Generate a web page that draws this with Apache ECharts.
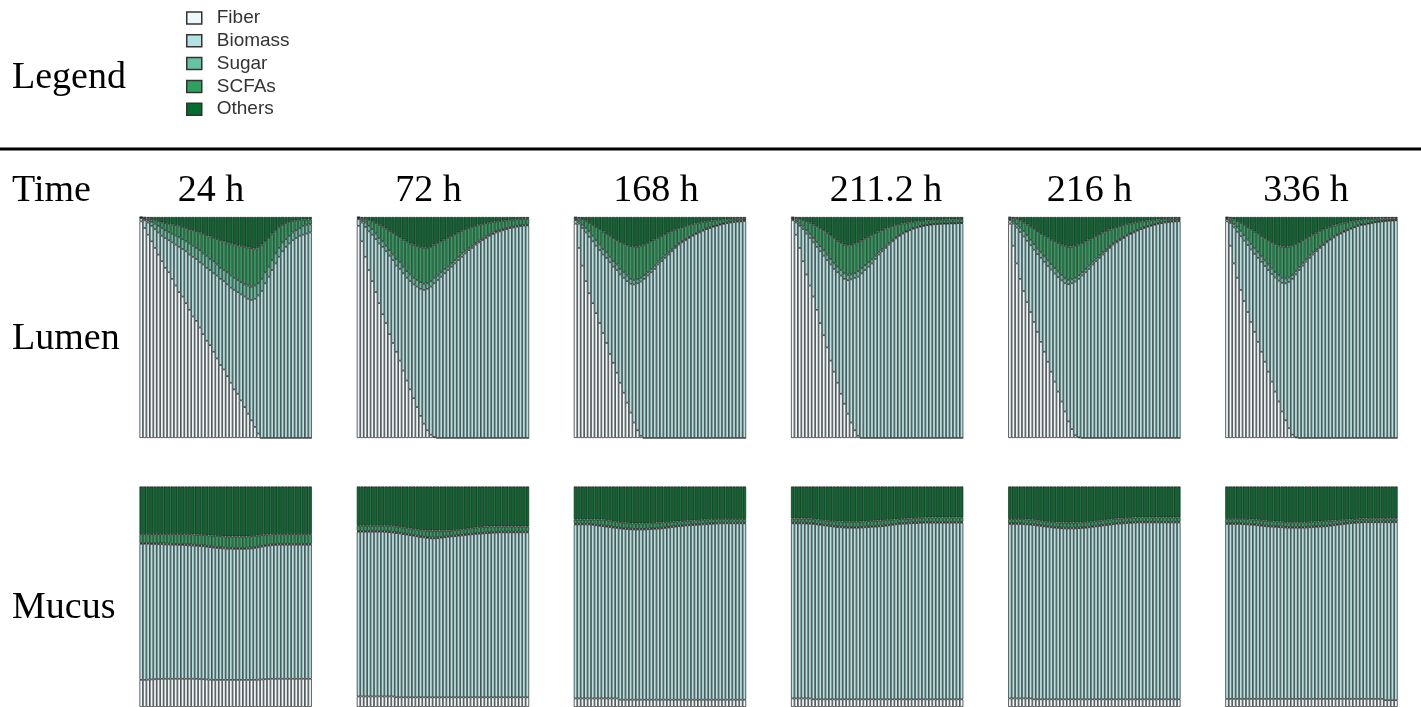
<!DOCTYPE html>
<html><head><meta charset="utf-8">
<script src="https://cdn.jsdelivr.net/npm/echarts@6/dist/echarts.min.js"></script>
<style>html,body{margin:0;padding:0;background:#fff}#c{width:1421px;height:707px}</style>
</head><body><div id="c"></div>
<script>
const times = ['24 h','72 h','168 h','211.2 h','216 h','336 h'];
const compartments = ['Lumen','Mucus'];
const components = ['Fiber','Biomass','Sugar','SCFAs','Others'];
const colors = ['#edf8fb','#b2e2e2','#66c2a4','#2ca25f','#006d2c'];

// ---------- Lumen, 24 h ----------
const lumen24Fiber = [98,95,92,89,86,83,80,77,75,72,69,66,64,61,58,55,53,50,47,44,42,39,36,33,31,28,25,22,20,17,14,11,8,5,2,0,0,0,0,0,0,0,0,0,0,0,0,0,0,0];
const lumen24Biomass = [1.5,3.5,5.5,7,8.5,10,11.5,13.5,14.5,16.5,18.5,20.5,21.5,23.5,25,27,28,29.5,31.5,33,34,35.5,37.5,39,40,41.5,43,45,46,48,50,52,54.5,58,62.5,66.5,70,73,76,79,82,84.5,86.5,88,89.5,90.5,91.5,92,92.5,93];
const lumen24Sugar = [0.2,0.7,1,1.8,2.5,3,3.5,3.5,3.7,3.9,4.1,4.3,4.5,4.5,5,5,5,5.5,5,5.5,5,5.5,5,5,5,5.5,5.5,5.5,5.5,5.5,5.5,6,6,6,5.5,5.5,5,4.5,4.5,4.5,4,4,3.5,3.5,3.5,3.5,3.5,4,4,3.7];
const lumen24Scfa = [0.2,0.5,0.9,1.2,1.6,2.2,2.6,3.2,3.7,4.2,4.7,5.2,5.5,6,6.5,7,7.6,8,8.9,9.3,10.2,10.6,11.5,12.5,13,13.5,14.5,15.1,15.7,16.4,17.1,17.2,17.4,16.8,16.5,15.5,14,13,12,10.5,9.5,8,7.3,6.3,5.2,4.5,3.7,2.8,2.4,2.2];
const lumen24Others = [0.1,0.3,0.6,1,1.4,1.8,2.4,2.8,3.1,3.4,3.7,4,4.5,5,5.5,6,6.4,7,7.6,8.2,8.8,9.4,10,10.5,11,11.5,12,12.4,12.8,13.1,13.4,13.8,14.1,14.2,13.5,12.5,11,9.5,7.5,6,4.5,3.5,2.7,2.2,1.8,1.5,1.3,1.2,1.1,1.1];

// ---------- Lumen, 72 h ----------
const lumen72Fiber = [96,89,82,76,71,66,61,56,52,47,43,39,35,30.5,26,22,18,14,10,6.5,3.5,1.5,0.5,0,0,0,0,0,0,0,0,0,0,0,0,0,0,0,0,0,0,0,0,0,0,0,0,0,0,0];
const lumen72Biomass = [3,8.5,13.5,17.5,21,24,27,30.5,32.5,35.5,37.5,39,41.5,44,46.5,49,51.5,54.5,57.5,60.5,64,67,69.5,71.5,73,74.5,76,77.5,79,80.5,82,83.5,85,86,87.5,88.5,89.5,90.5,91.5,92.3,93,93.5,94,94.5,95,95.3,95.6,95.9,96.1,96.2];
const lumen72Sugar = [0.5,1,2,2.5,2.5,2.5,2.5,2.5,2.5,2.5,2.5,3,3,3,3,3,3,3,3,2.8,2.5,2.5,2.5,2,2,2,1.5,1.5,1.5,1.5,1.5,1.3,1,1,0.8,0.8,0.7,0.7,0.6,0.6,0.6,0.5,0.5,0.5,0.4,0.4,0.4,0.3,0.3,0.3];
const lumen72Scfa = [0.4,1.1,1.7,2.7,3.5,4.8,6,6.7,7.8,8.8,9.8,10.8,11.3,12.3,13.4,14,15,15.4,15.9,16.3,16,15.5,15,14.8,14,13.3,13.1,12.4,11.7,11,10.3,9.7,9,8.5,7.7,7.2,6.7,6,5.4,4.8,4.3,4.1,3.8,3.5,3.3,3.1,3,2.9,2.8,2.7];
const lumen72Others = [0.1,0.4,0.8,1.3,2,2.7,3.5,4.3,5.2,6.2,7.2,8.2,9.2,10.2,11.1,12,12.5,13.1,13.6,13.9,14,13.5,12.5,11.7,11,10.2,9.4,8.6,7.8,7,6.2,5.5,5,4.5,4,3.5,3.1,2.8,2.5,2.3,2.1,1.9,1.7,1.5,1.3,1.2,1,0.9,0.8,0.8];

// ---------- Lumen, 168 h ----------
const lumen168Fiber = [97,86,78,71,65.5,61,56.5,52,47.5,43,38,34,29.5,25,20.5,16,11.5,7,3.5,1,0,0,0,0,0,0,0,0,0,0,0,0,0,0,0,0,0,0,0,0,0,0,0,0,0,0,0,0,0,0];
const lumen168Biomass = [1.5,11,17,22,25.5,28,30.5,33,35.5,38.5,41.5,43.5,46.5,49,52,55,58.3,62.5,66.5,69.8,72,73.5,75,76.5,78.5,80,81.5,83,84.5,86,87.5,88.5,89.5,90.5,91.5,92.3,93,93.8,94.5,95,95.6,96,96.5,96.9,97.2,97.5,97.7,97.9,98,98.2];
const lumen168Sugar = [0.5,1,1.5,2,2.5,2.5,2.5,2.5,2.5,2.5,2.5,2.5,2.5,2.5,2.5,2.5,2.2,2,1.8,1.7,1.7,1.5,1.5,1.5,1.3,1.2,1.1,1,0.9,0.8,0.7,0.6,0.6,0.5,0.5,0.4,0.4,0.4,0.3,0.3,0.3,0.3,0.3,0.3,0.3,0.3,0.3,0.3,0.3,0.3];
const lumen168Scfa = [0.8,1.5,2.5,3.3,3.8,4.9,5.9,6.9,7.9,8.4,9.4,10.4,11,12.2,12.9,13.7,14.8,15,14.8,14.5,13.8,13.2,12.5,11.8,10.8,10.2,9.6,9,8.3,7.5,6.7,6.3,5.8,5.4,4.8,4.4,4,3.5,3.1,2.9,2.5,2.3,1.9,1.7,1.5,1.3,1.1,1,0.9,0.7];
const lumen168Others = [0.2,0.5,1,1.7,2.7,3.6,4.6,5.6,6.6,7.6,8.6,9.6,10.5,11.3,12.1,12.8,13.2,13.5,13.4,13,12.5,11.8,11,10.2,9.4,8.6,7.8,7,6.3,5.7,5.1,4.6,4.1,3.6,3.2,2.9,2.6,2.3,2.1,1.8,1.6,1.4,1.3,1.1,1,0.9,0.9,0.8,0.8,0.8];

// ---------- Lumen, 211.2 h ----------
const lumen211Fiber = [98.5,92,86,80,74,69,64,58,52,46.5,41,35,30,25,20,15.5,11,7,3.5,1,0,0,0,0,0,0,0,0,0,0,0,0,0,0,0,0,0,0,0,0,0,0,0,0,0,0,0,0,0,0];
const lumen211Biomass = [0.5,5.5,10,14.5,18.5,21.5,24.5,28.5,32.5,36,39.5,43.5,46.5,50,53.5,56.5,60.4,64.8,69,72,74.5,76,77.5,79,81,83,84.5,86,87.5,89,90.3,91.5,92.5,93.3,94,94.7,95.2,95.6,96,96.3,96.5,96.7,96.8,96.9,97,97,97.1,97.1,97.2,97.2];
const lumen211Sugar = [0.4,0.8,1,1.2,1.5,1.8,2,2.2,2.3,2.4,2.5,2.5,2.5,2.5,2.5,2.5,2.4,2.2,2.1,2.5,2.3,2.2,2,1.8,1.5,1.3,1.1,1,0.8,0.7,0.6,0.5,0.4,0.3,0.3,0.3,0.3,0.3,0.2,0.2,0.2,0.2,0.2,0.2,0.2,0.2,0.2,0.2,0.2,0.2];
const lumen211Scfa = [0.4,1.2,2.1,2.9,4.1,5.1,6.1,7.1,8.1,9.1,9.9,10.7,11.5,11.8,12.3,13,13.4,13.4,13.4,13.1,12.6,12.1,11.6,11.1,10.2,9.1,8.5,7.8,7.1,6.2,5.5,4.8,4.2,3.8,3.3,2.8,2.5,2.2,2,1.9,1.8,1.7,1.7,1.6,1.6,1.6,1.6,1.6,1.6,1.6];
const lumen211Others = [0.2,0.5,0.9,1.4,1.9,2.6,3.4,4.2,5.1,6,7.1,8.3,9.5,10.7,11.7,12.5,12.8,12.6,12,11.4,10.6,9.7,8.9,8.1,7.3,6.6,5.9,5.2,4.6,4.1,3.6,3.2,2.9,2.6,2.4,2.2,2,1.9,1.8,1.6,1.5,1.4,1.3,1.3,1.2,1.2,1.1,1.1,1,1];

// ---------- Lumen, 216 h ----------
const lumen216Fiber = [97,87,79,72,66.5,61.5,57,52.5,48,43.5,39,34.5,30,25.5,21,16.5,12,7.5,4,1.2,0.3,0,0,0,0,0,0,0,0,0,0,0,0,0,0,0,0,0,0,0,0,0,0,0,0,0,0,0,0,0];
const lumen216Biomass = [1.5,10,16.2,21.2,24.7,27.7,30.2,32.7,35.2,38,40.7,43.3,46.2,48.9,51.8,54.8,58,62.1,66,69.6,71.7,73.5,75,76.5,78.5,80,81.5,83,84.5,86,87.5,88.5,89.5,90.5,91.5,92.3,93,93.8,94.5,95,95.6,96,96.5,96.9,97.2,97.5,97.7,97.9,98,98.1];
const lumen216Sugar = [0.5,1,1.5,2,2.5,2.5,2.5,2.5,2.5,2.5,2.5,2.5,2.5,2.5,2.5,2.5,2.2,2,1.8,1.7,1.7,1.5,1.5,1.5,1.3,1.2,1.1,1,0.9,0.8,0.7,0.6,0.6,0.5,0.5,0.4,0.4,0.4,0.3,0.3,0.3,0.3,0.3,0.3,0.3,0.3,0.3,0.3,0.3,0.3];
const lumen216Scfa = [0.8,1.5,2.5,3.3,3.8,4.9,5.9,6.9,7.9,8.4,9.4,10.4,11,12.2,12.9,13.7,14.8,15,14.8,14.5,13.8,13.2,12.5,11.8,10.8,10.2,9.6,9,8.3,7.5,6.7,6.3,5.8,5.4,4.8,4.4,4,3.5,3.1,2.9,2.5,2.3,1.9,1.7,1.5,1.3,1.1,1,0.9,0.7];
const lumen216Others = [0.2,0.5,0.8,1.5,2.5,3.4,4.4,5.4,6.4,7.6,8.4,9.3,10.3,10.9,11.8,12.5,13,13.4,13.4,13,12.5,11.8,11,10.2,9.4,8.6,7.8,7,6.3,5.7,5.1,4.6,4.1,3.6,3.2,2.9,2.6,2.3,2.1,1.8,1.6,1.4,1.3,1.1,1,0.9,0.9,0.8,0.8,0.9];

// ---------- Lumen, 336 h ----------
const lumen336Fiber = [98,87,79,72.5,67,62,57,52.5,48,43.5,39,34.5,30,25.5,21,16.5,12,8,4.5,1.5,0.3,0,0,0,0,0,0,0,0,0,0,0,0,0,0,0,0,0,0,0,0,0,0,0,0,0,0,0,0,0];
const lumen336Biomass = [1,10.3,16.3,20.8,24.3,27.3,30.3,32.8,35.3,38,40.7,43.3,46,48.7,51.6,54.7,58.2,62,66.1,70.5,73.7,76,78,79.8,81.5,83,84.5,86,87.3,88.5,89.7,90.7,91.7,92.5,93.3,94,94.7,95.3,95.9,96.4,96.6,97,97.3,97.6,97.8,98,98.2,98.3,98.4,98.5];
const lumen336Sugar = [0.4,0.9,1.4,2,2.4,2.5,2.5,2.5,2.5,2.5,2.5,2.5,2.5,2.5,2.5,2.4,2.3,2.2,2,1.8,1.6,1.4,1.3,1.2,1.1,1,0.9,0.8,0.7,0.6,0.5,0.5,0.4,0.4,0.4,0.3,0.3,0.3,0.3,0.3,0.2,0.2,0.2,0.2,0.2,0.2,0.2,0.2,0.2,0.2];
const lumen336Scfa = [0.4,1.2,2.2,2.9,3.6,4.6,5.6,6.6,7.6,8.4,9.2,10.1,11,11.9,12.7,13.5,14.1,14.2,14,13.3,12.2,11.2,10.2,9.4,8.7,8.1,7.5,6.9,6.4,5.9,5.4,4.9,4.5,4.1,3.7,3.4,3,2.7,2.3,2,2.1,1.8,1.6,1.4,1.3,1.1,1,0.9,0.8,0.7];
const lumen336Others = [0.2,0.6,1.1,1.8,2.7,3.6,4.6,5.6,6.6,7.6,8.6,9.6,10.5,11.4,12.2,12.9,13.4,13.6,13.4,12.9,12.2,11.4,10.5,9.6,8.7,7.9,7.1,6.3,5.6,5,4.4,3.9,3.4,3,2.6,2.3,2,1.7,1.5,1.3,1.1,1,0.9,0.8,0.7,0.7,0.6,0.6,0.6,0.6];

// ---------- Mucus, 24 h ----------
const mucus24Fiber = [12.3,12.3,12.4,12.5,12.6,12.7,12.8,12.8,12.8,12.8,12.8,12.8,12.8,12.8,12.8,12.8,12.8,12.7,12.6,12.5,12.4,12.3,12.3,12.3,12.3,12.3,12.3,12.3,12.3,12.3,12.3,12.3,12.3,12.3,12.4,12.5,12.6,12.7,12.8,12.8,12.8,12.8,12.8,12.8,12.8,12.8,12.8,12.8,12.8,12.8];
const mucus24Biomass = [61.7,61.7,61.6,61.4,61.3,61.1,61,60.9,60.9,60.8,60.8,60.7,60.7,60.6,60.5,60.4,60.3,60.3,60.3,60.2,60.1,60,59.8,59.7,59.6,59.5,59.5,59.4,59.4,59.4,59.4,59.5,59.6,59.8,60,60.2,60.4,60.5,60.6,60.7,60.8,60.8,60.8,60.8,60.8,60.8,60.8,60.8,60.8,60.8];
const mucus24Sugar = [0.4,0.4,0.4,0.4,0.4,0.4,0.4,0.4,0.4,0.4,0.4,0.4,0.4,0.4,0.4,0.4,0.4,0.4,0.4,0.4,0.4,0.4,0.4,0.4,0.4,0.4,0.4,0.4,0.4,0.4,0.4,0.4,0.4,0.4,0.4,0.4,0.4,0.4,0.4,0.4,0.4,0.4,0.4,0.4,0.4,0.4,0.4,0.4,0.4,0.4];
const mucus24Scfa = [4,4,4,4.1,4.1,4.2,4.2,4.3,4.3,4.4,4.4,4.5,4.5,4.6,4.7,4.7,4.7,4.7,4.7,4.8,4.9,5,5.1,5.1,5.1,5.2,5.2,5.3,5.3,5.3,5.3,5.2,5.2,5.1,5,4.9,4.8,4.7,4.6,4.5,4.4,4.4,4.4,4.4,4.4,4.4,4.4,4.4,4.4,4.4];
const mucus24Others = [21.6,21.6,21.6,21.6,21.6,21.6,21.6,21.6,21.6,21.6,21.6,21.6,21.6,21.6,21.6,21.7,21.8,21.9,22,22.1,22.2,22.3,22.4,22.5,22.6,22.6,22.6,22.6,22.6,22.6,22.6,22.6,22.5,22.4,22.2,22,21.8,21.7,21.6,21.6,21.6,21.6,21.6,21.6,21.6,21.6,21.6,21.6,21.6,21.6];

// ---------- Mucus, 72 h ----------
const mucus72Fiber = [4.8,4.8,4.8,4.8,4.8,4.8,4.8,4.8,4.8,4.8,4.8,4.4,4.4,4.4,4.4,4.4,4.4,4.4,4.4,4.4,4.4,4.4,4.4,4.4,4.4,4.4,4.4,4.4,4.4,4.4,4.4,4.4,4.4,4.4,4.4,4.4,4.4,4.4,4.4,4.4,4.4,4.4,4.4,4.4,4.4,4.4,4.4,4.4,4.4,4.4];
const mucus72Biomass = [74.7,74.7,74.7,74.7,74.7,74.7,74.7,74.7,74.6,74.5,74.3,74.5,74.3,74,73.8,73.5,73.3,73,72.7,72.5,72.3,72.1,72.1,72.2,72.4,72.6,72.8,73,73.1,73.3,73.4,73.6,73.8,73.9,74.1,74.2,74.3,74.4,74.5,74.6,74.7,74.8,74.8,74.8,74.8,74.8,74.8,74.8,74.8,74.8];
const mucus72Sugar = [0.3,0.3,0.3,0.3,0.3,0.3,0.3,0.3,0.3,0.3,0.3,0.3,0.3,0.3,0.3,0.3,0.3,0.3,0.3,0.3,0.3,0.3,0.3,0.3,0.3,0.3,0.3,0.3,0.3,0.3,0.3,0.3,0.3,0.3,0.3,0.3,0.3,0.3,0.3,0.3,0.3,0.3,0.3,0.3,0.3,0.3,0.3,0.3,0.3,0.3];
const mucus72Scfa = [2.4,2.4,2.4,2.4,2.4,2.4,2.4,2.4,2.5,2.6,2.7,2.7,2.7,2.7,2.7,2.8,2.7,2.8,2.9,2.9,3,3.2,3.2,3.1,2.9,2.7,2.5,2.3,2.4,2.4,2.5,2.5,2.5,2.6,2.6,2.7,2.7,2.7,2.7,2.6,2.5,2.4,2.4,2.4,2.4,2.4,2.4,2.4,2.4,2.4];
const mucus72Others = [17.8,17.8,17.8,17.8,17.8,17.8,17.8,17.8,17.8,17.8,17.9,18.1,18.3,18.6,18.8,19,19.3,19.5,19.7,19.9,20,20,20,20,20,20,20,20,19.8,19.6,19.4,19.2,19,18.8,18.6,18.4,18.3,18.2,18.1,18.1,18.1,18.1,18.1,18.1,18.1,18.1,18.1,18.1,18.1,18.1];

// ---------- Mucus, 168 h ----------
const mucus168Fiber = [3.9,3.9,3.9,3.9,3.9,3.9,3.9,3.9,3.9,3.9,3.9,3.9,3.9,3.3,3.3,3.3,3.3,3.3,3.3,3.3,3.3,3.3,3.3,3.3,3.3,3.3,3.3,3.3,3.3,3.3,3.3,3.3,3.3,3.3,3.3,3.3,3.3,3.3,3.3,3.3,3.3,3.3,3.3,3.3,3.3,3.3,3.3,3.3,3.3,3.3];
const mucus168Biomass = [78.9,78.9,78.9,78.9,78.9,78.7,78.5,78.3,78.1,77.9,77.7,77.5,77.3,77.7,77.5,77.4,77.3,77.2,77.2,77.2,77.2,77.3,77.4,77.5,77.6,77.7,77.9,78.1,78.3,78.5,78.7,78.8,79,79.1,79.2,79.3,79.4,79.5,79.6,79.7,79.8,79.9,80,80,80,80,80,80,80,80];
const mucus168Sugar = [0.3,0.3,0.3,0.3,0.3,0.3,0.3,0.3,0.3,0.3,0.3,0.3,0.3,0.3,0.3,0.3,0.3,0.3,0.3,0.3,0.3,0.3,0.3,0.3,0.3,0.3,0.3,0.3,0.3,0.3,0.3,0.3,0.3,0.3,0.3,0.3,0.3,0.3,0.3,0.3,0.3,0.3,0.3,0.3,0.3,0.3,0.3,0.3,0.3,0.3];
const mucus168Scfa = [1.9,1.9,1.9,1.9,1.9,2.1,2.3,2.5,2.7,2.7,2.6,2.5,2.5,2.5,2.5,2.5,2.4,2.5,2.5,2.5,2.5,2.4,2.4,2.4,2.4,2.4,2.3,2.2,2.1,2,1.9,1.9,1.8,1.8,1.8,1.8,1.8,1.8,1.8,1.9,1.8,1.7,1.6,1.6,1.6,1.6,1.6,1.6,1.6,1.6];
const mucus168Others = [15,15,15,15,15,15,15,15,15,15.2,15.5,15.8,16,16.2,16.4,16.5,16.7,16.7,16.7,16.7,16.7,16.7,16.6,16.5,16.4,16.3,16.2,16.1,16,15.9,15.8,15.7,15.6,15.5,15.4,15.3,15.2,15.1,15,14.8,14.8,14.8,14.8,14.8,14.8,14.8,14.8,14.8,14.8,14.8];

// ---------- Mucus, 211.2 h ----------
const mucus211Fiber = [3.9,3.9,3.9,3.9,3.9,3.9,3.5,3.5,3.5,3.5,3.5,3.5,3.5,3.5,3.5,3.5,3.5,3.5,3.5,3.5,3.5,3.5,3.5,3.5,3.5,3.5,3.5,3.5,3.5,3.5,3.5,3.5,3.5,3.5,3.5,3.5,3.5,3.5,3.5,3.5,3.5,3.5,3.5,3.5,3.5,3.5,3.5,3.5,3.5,3.5];
const mucus211Biomass = [79.4,79.4,79.4,79.4,79.3,79.2,79.5,79.3,79.1,78.9,78.7,78.5,78.3,78.1,78,77.9,77.8,77.8,77.8,77.8,77.9,78,78.1,78.2,78.3,78.4,78.5,78.7,78.9,79.1,79.3,79.5,79.6,79.7,79.8,79.9,79.9,80,80.1,80.1,80.1,80.1,80.1,80.1,80.1,80.1,80.1,80.1,80.1,80.1];
const mucus211Sugar = [0.3,0.3,0.3,0.3,0.3,0.3,0.3,0.3,0.3,0.3,0.3,0.3,0.3,0.3,0.3,0.3,0.3,0.3,0.3,0.3,0.3,0.3,0.3,0.3,0.3,0.3,0.3,0.3,0.3,0.3,0.3,0.3,0.3,0.3,0.3,0.3,0.3,0.3,0.3,0.3,0.3,0.3,0.3,0.3,0.3,0.3,0.3,0.3,0.3,0.3];
const mucus211Scfa = [1.9,1.9,1.9,1.9,2,2,2,2,2,2,2,2.1,2.2,2.3,2.3,2.3,2.4,2.4,2.4,2.4,2.4,2.4,2.4,2.4,2.4,2.4,2.4,2.3,2.2,2.1,2,1.9,1.9,1.9,1.9,1.9,2,2,2,2.1,2.1,2.1,2.1,2.1,2.1,2.1,2.1,2.1,2.1,2.1];
const mucus211Others = [14.5,14.5,14.5,14.5,14.5,14.6,14.7,14.9,15.1,15.3,15.5,15.6,15.7,15.8,15.9,16,16,16,16,16,15.9,15.8,15.7,15.6,15.5,15.4,15.3,15.2,15.1,15,14.9,14.8,14.7,14.6,14.5,14.4,14.3,14.2,14.1,14,14,14,14,14,14,14,14,14,14,14];

// ---------- Mucus, 216 h ----------
const mucus216Fiber = [3.9,3.9,3.9,3.9,3.9,3.9,3.9,3.5,3.5,3.5,3.5,3.5,3.5,3.5,3.5,3.5,3.5,3.5,3.5,3.5,3.5,3.5,3.5,3.5,3.5,3.5,3.5,3.5,3.5,3.5,3.5,3.5,3.5,3.5,3.5,3.5,3.5,3.5,3.5,3.5,3.5,3.5,3.5,3.5,3.5,3.5,3.5,3.5,3.5,3.5];
const mucus216Biomass = [79.1,79.1,79.1,79.1,79,78.9,78.8,79,78.8,78.6,78.4,78.2,78,77.8,77.7,77.6,77.5,77.5,77.5,77.5,77.6,77.7,77.8,78,78.2,78.4,78.6,78.8,79,79.2,79.4,79.6,79.7,79.8,79.9,80,80.1,80.2,80.2,80.2,80.2,80.2,80.2,80.2,80.2,80.2,80.2,80.2,80.2,80.2];
const mucus216Sugar = [0.3,0.3,0.3,0.3,0.3,0.3,0.3,0.3,0.3,0.3,0.3,0.3,0.3,0.3,0.3,0.3,0.3,0.3,0.3,0.3,0.3,0.3,0.3,0.3,0.3,0.3,0.3,0.3,0.3,0.3,0.3,0.3,0.3,0.3,0.3,0.3,0.3,0.3,0.3,0.3,0.3,0.3,0.3,0.3,0.3,0.3,0.3,0.3,0.3,0.3];
const mucus216Scfa = [1.9,1.9,1.9,1.9,2,2,2,2,2,2,2,2,2.1,2.2,2.2,2.2,2.3,2.3,2.3,2.3,2.3,2.3,2.3,2.2,2.1,2.1,2.1,2.1,2.1,2.1,2.1,2,2,2,2,2,2,2,2,2,2,2,2,2,2,2,2,2,2,2];
const mucus216Others = [14.8,14.8,14.8,14.8,14.8,14.9,15,15.2,15.4,15.6,15.8,16,16.1,16.2,16.3,16.4,16.4,16.4,16.4,16.4,16.3,16.2,16.1,16,15.9,15.7,15.5,15.3,15.1,14.9,14.7,14.6,14.5,14.4,14.3,14.2,14.1,14,14,14,14,14,14,14,14,14,14,14,14,14];

// ---------- Mucus, 336 h ----------
const mucus336Fiber = [3.7,3.7,3.7,3.7,3.7,3.7,3.7,3.7,3.7,3.7,3.7,3.7,3.7,3.7,3.7,3.7,3.7,3.7,3.7,3.7,3.7,3.7,3.7,3.7,3.7,3.7,3.7,3.7,3.7,3.7,3.7,3.7,3.7,3.7,3.7,3.7,3.7,3.7,3.7,3.7,3.7,3.7,3.7,3.7,3.7,3.7,3.1,3.1,3.1,3.1];
const mucus336Biomass = [79.3,79.3,79.3,79.3,79.3,79.2,79.1,79,78.9,78.7,78.5,78.3,78.2,78.1,78,77.9,77.8,77.7,77.6,77.6,77.6,77.6,77.6,77.7,77.8,77.9,78,78.1,78.2,78.3,78.5,78.7,78.9,79.1,79.3,79.5,79.7,79.8,79.9,80,80.1,80.1,80.1,80.1,80.1,80.1,80.7,80.7,80.7,80.7];
const mucus336Sugar = [0.3,0.3,0.3,0.3,0.3,0.3,0.3,0.3,0.3,0.3,0.3,0.3,0.3,0.3,0.3,0.3,0.3,0.3,0.3,0.3,0.3,0.3,0.3,0.3,0.3,0.3,0.3,0.3,0.3,0.3,0.3,0.3,0.3,0.3,0.3,0.3,0.3,0.3,0.3,0.3,0.3,0.3,0.3,0.3,0.3,0.3,0.3,0.3,0.3,0.3];
const mucus336Scfa = [2,2,2,2,2,2.1,2.1,2.1,2.1,2.2,2.2,2.2,2.2,2.2,2.2,2.2,2.2,2.1,2.2,2.2,2.2,2.2,2.2,2.1,2.1,2.1,2.1,2.1,2.1,2.1,2,1.9,1.8,1.7,1.6,1.5,1.4,1.4,1.4,1.4,1.4,1.5,1.5,1.5,1.5,1.5,1.5,1.5,1.5,1.5];
const mucus336Others = [14.7,14.7,14.7,14.7,14.7,14.7,14.8,14.9,15,15.1,15.3,15.5,15.6,15.7,15.8,15.9,16,16.2,16.2,16.2,16.2,16.2,16.2,16.2,16.1,16,15.9,15.8,15.7,15.6,15.5,15.4,15.3,15.2,15.1,15,14.9,14.8,14.7,14.6,14.5,14.4,14.4,14.4,14.4,14.4,14.4,14.4,14.4,14.4];

// ---------- assemble ----------
const panelData = [
  [ // Lumen
    [lumen24Fiber, lumen24Biomass, lumen24Sugar, lumen24Scfa, lumen24Others],
    [lumen72Fiber, lumen72Biomass, lumen72Sugar, lumen72Scfa, lumen72Others],
    [lumen168Fiber, lumen168Biomass, lumen168Sugar, lumen168Scfa, lumen168Others],
    [lumen211Fiber, lumen211Biomass, lumen211Sugar, lumen211Scfa, lumen211Others],
    [lumen216Fiber, lumen216Biomass, lumen216Sugar, lumen216Scfa, lumen216Others],
    [lumen336Fiber, lumen336Biomass, lumen336Sugar, lumen336Scfa, lumen336Others]
  ],
  [ // Mucus
    [mucus24Fiber, mucus24Biomass, mucus24Sugar, mucus24Scfa, mucus24Others],
    [mucus72Fiber, mucus72Biomass, mucus72Sugar, mucus72Scfa, mucus72Others],
    [mucus168Fiber, mucus168Biomass, mucus168Sugar, mucus168Scfa, mucus168Others],
    [mucus211Fiber, mucus211Biomass, mucus211Sugar, mucus211Scfa, mucus211Others],
    [mucus216Fiber, mucus216Biomass, mucus216Sugar, mucus216Scfa, mucus216Others],
    [mucus336Fiber, mucus336Biomass, mucus336Sugar, mucus336Scfa, mucus336Others]
  ]
];

const positions = lumen24Fiber.map((_, i) => String(i + 1));

// layout
const colLeft = [139.5, 356.8, 573.8, 791, 1008.2, 1225.3];
const panelW = 172.3;
const rowTop = [217, 486.5];
const panelH = 221;
const timeLabelX = [211, 428.5, 656, 886, 1089.5, 1306];
const rowLabelY = [339, 608];

const grids = [], xAxes = [], yAxes = [], series = [];
let k = 0;
for (let r = 0; r < 2; r++) {
  for (let c = 0; c < 6; c++) {
    grids.push({ left: colLeft[c], top: rowTop[r], width: panelW, height: panelH, containLabel: false });
    xAxes.push({ type: 'category', gridIndex: k, data: positions, show: false });
    yAxes.push({ type: 'value', gridIndex: k, min: 0, max: 100, show: false });
    for (let j = 0; j < 5; j++) {
      series.push({
        type: 'bar', name: components[j], xAxisIndex: k, yAxisIndex: k,
        stack: 'p' + k, data: panelData[r][c][j],
        barCategoryGap: '0%',
        itemStyle: { color: colors[j], borderColor: '#1f1f1f', borderWidth: 0.7 },
        emphasis: { disabled: true }, silent: true
      });
    }
    k++;
  }
}

const serif = '"Liberation Serif", "Times New Roman", serif';
const textStyle = (text, align) => ({ text, font: '38px ' + serif, fill: '#000', align, verticalAlign: 'middle', textAlign: align, textVerticalAlign: 'middle' });
const graphics = [
  { type: 'line', shape: { x1: 0, y1: 149, x2: 1421, y2: 149 }, style: { stroke: '#000', lineWidth: 3 } },
  { type: 'text', x: 12, y: 78, style: textStyle('Legend', 'left') },
  { type: 'text', x: 12, y: 191, style: textStyle('Time', 'left') }
];
times.forEach((t, c) => graphics.push({ type: 'text', x: timeLabelX[c], y: 191, style: textStyle(t, 'center') }));
compartments.forEach((m, r) => graphics.push({ type: 'text', x: 12, y: rowLabelY[r], style: textStyle(m, 'left') }));

const chart = echarts.init(document.getElementById('c'), null, { renderer: 'canvas' });
chart.setOption({
  animation: false,
  backgroundColor: '#fff',
  legend: {
    data: components, orient: 'vertical', left: 186, top: 8, padding: 0,
    itemWidth: 15, itemHeight: 12, itemGap: 2.8, icon: 'rect',
    itemStyle: { borderColor: '#333', borderWidth: 1.5 },
    textStyle: { fontFamily: '"Liberation Sans", Arial, sans-serif', fontSize: 19, color: '#333', lineHeight: 20, padding: [0, 0, 0, 10] },
    selectedMode: false
  },
  grid: grids, xAxis: xAxes, yAxis: yAxes, series: series,
  graphic: graphics
});
</script>
</body></html>
